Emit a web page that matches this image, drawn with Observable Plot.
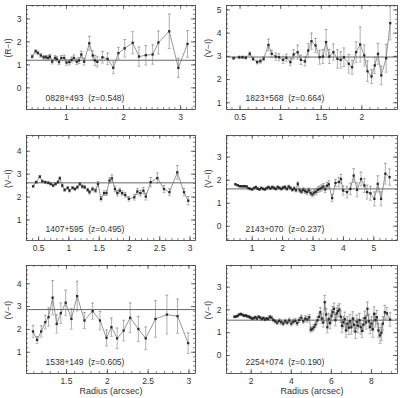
<!DOCTYPE html>
<html><head><meta charset="utf-8">
<script src="https://cdn.jsdelivr.net/npm/d3@7"></script>
<script src="https://cdn.jsdelivr.net/npm/@observablehq/plot@0.6"></script>
<style>
body{margin:0;background:#fff;}
#wrap{position:relative;width:400px;height:398px;background:#fff;overflow:hidden;}
#wrap svg{position:absolute;}
</style></head>
<body><div id="wrap"></div>
<script>
// ---- Panel 1: 0828+493 ----
const r1 = [0.40,0.46,0.50,0.55,0.60,0.64,0.68,0.71,0.75,0.80,0.83,0.87,0.91,0.96,1.00,1.05,1.09,1.13,1.18,1.22,1.26,1.31,1.40,1.46,1.50,1.54,1.63,1.72,1.82,1.91,2.02,2.16,2.27,2.39,2.51,2.61,2.80,2.96,3.12];
const c1 = [1.36,1.59,1.52,1.41,1.33,1.33,1.30,1.36,1.14,1.30,1.26,1.12,1.30,1.30,1.10,1.12,1.22,1.30,1.14,1.19,1.45,1.14,1.94,1.41,1.19,1.13,1.33,1.26,0.87,1.51,1.72,1.96,1.36,1.42,1.45,1.97,2.46,0.87,1.91];
const e1 = [0.06,0.07,0.07,0.08,0.08,0.08,0.09,0.09,0.1,0.1,0.1,0.11,0.11,0.12,0.12,0.12,0.12,0.13,0.13,0.13,0.14,0.15,0.3,0.2,0.22,0.22,0.25,0.25,0.25,0.25,0.38,0.48,0.42,0.42,0.42,0.5,0.75,0.42,0.58];
// ---- Panel 2: 1823+568 ----
const r2 = [0.42,0.49,0.53,0.57,0.62,0.66,0.71,0.75,0.79,0.85,0.89,0.94,0.98,1.03,1.07,1.12,1.16,1.21,1.25,1.30,1.34,1.38,1.43,1.48,1.52,1.56,1.60,1.65,1.70,1.74,1.78,1.84,1.88,1.93,1.98,2.03,2.07,2.12,2.16,2.20,2.24,2.30,2.35];
const c2 = [2.92,2.96,2.96,2.94,3.11,2.89,2.75,2.79,2.89,3.49,3.11,2.99,2.96,2.85,2.94,2.75,3.08,3.18,2.85,2.78,3.25,3.65,3.47,2.96,2.99,3.61,2.99,3.18,2.89,2.85,2.96,2.68,2.53,3.18,3.51,3.04,2.36,2.13,2.61,3.11,2.18,2.92,4.43];
const e2 = [0.05,0.05,0.05,0.06,0.07,0.07,0.08,0.08,0.09,0.25,0.15,0.15,0.15,0.15,0.15,0.15,0.2,0.3,0.2,0.2,0.3,0.35,0.3,0.3,0.3,0.55,0.3,0.35,0.4,0.35,0.4,0.4,0.3,0.45,0.75,0.45,0.45,0.3,0.35,0.45,0.4,0.6,0.72];
// ---- Panel 3: 1407+595 ----
const r3 = [0.41,0.46,0.52,0.56,0.61,0.66,0.70,0.74,0.78,0.82,0.85,0.89,0.93,0.98,1.01,1.06,1.10,1.14,1.18,1.22,1.26,1.31,1.34,1.39,1.44,1.48,1.53,1.58,1.62,1.67,1.71,1.76,1.80,1.84,1.88,1.93,1.99,2.08,2.13,2.18,2.23,2.27,2.35,2.46,2.57,2.66,2.79,2.90,2.97];
const c3 = [2.47,2.65,2.89,2.69,2.65,2.62,2.57,2.50,2.57,2.65,2.82,2.50,2.31,2.40,2.28,2.40,2.35,2.43,2.57,2.46,2.43,2.31,2.21,2.35,2.28,2.57,1.92,2.17,2.17,2.72,2.82,2.35,2.17,2.28,2.17,2.09,1.92,1.99,2.24,2.17,2.28,2.02,2.65,2.83,2.35,2.21,3.08,2.21,1.84];
const e3 = [0.04,0.04,0.05,0.05,0.05,0.05,0.05,0.05,0.05,0.06,0.06,0.06,0.06,0.06,0.06,0.06,0.06,0.07,0.07,0.07,0.07,0.07,0.08,0.08,0.08,0.1,0.1,0.1,0.1,0.12,0.15,0.12,0.12,0.1,0.1,0.1,0.1,0.12,0.12,0.12,0.14,0.15,0.2,0.22,0.15,0.15,0.3,0.16,0.18];
// ---- Panel 4: 2143+070 ----
const r4 = [0.45,0.52,0.58,0.64,0.70,0.76,0.82,0.88,0.94,1.00,1.06,1.12,1.18,1.24,1.30,1.36,1.42,1.48,1.54,1.60,1.66,1.72,1.78,1.84,1.90,1.96,2.02,2.08,2.14,2.20,2.26,2.32,2.38,2.44,2.50,2.56,2.62,2.68,2.74,2.80,2.86,2.92,2.98,3.04,3.10,3.16,3.22,3.28,3.34,3.40,3.46,3.52,3.63,3.74,3.85,3.92,3.99,4.12,4.23,4.34,4.45,4.58,4.69,4.78,4.89,5.02,5.13,5.24,5.38,5.52];
const c4 = [1.82,1.78,1.74,1.74,1.73,1.74,1.72,1.65,1.62,1.60,1.66,1.70,1.63,1.60,1.66,1.62,1.60,1.66,1.70,1.64,1.70,1.66,1.62,1.70,1.66,1.62,1.68,1.70,1.62,1.72,1.66,1.58,1.64,1.56,1.84,1.56,1.50,1.58,1.52,1.48,1.56,1.44,1.38,1.46,1.50,1.58,1.62,1.66,1.72,1.60,1.76,1.82,1.22,1.88,1.92,2.05,1.55,1.48,1.62,2.20,1.58,2.05,1.77,1.48,1.43,1.19,1.84,1.19,2.28,2.13];
const e4 = [0.03,0.03,0.03,0.03,0.03,0.03,0.03,0.03,0.03,0.03,0.03,0.04,0.04,0.04,0.04,0.04,0.04,0.04,0.04,0.04,0.05,0.05,0.05,0.05,0.05,0.05,0.05,0.06,0.06,0.06,0.06,0.06,0.07,0.07,0.08,0.08,0.08,0.09,0.09,0.1,0.1,0.1,0.11,0.11,0.12,0.12,0.12,0.13,0.13,0.14,0.14,0.15,0.15,0.15,0.2,0.2,0.2,0.25,0.25,0.3,0.3,0.3,0.3,0.3,0.3,0.3,0.35,0.3,0.45,0.35];
// ---- Panel 5: 1538+149 ----
const r5 = [1.09,1.14,1.19,1.24,1.28,1.33,1.38,1.43,1.49,1.56,1.63,1.72,1.82,1.91,1.99,2.05,2.12,2.20,2.28,2.38,2.47,2.59,2.73,2.86,2.99];
const c5 = [1.91,1.54,1.91,2.32,2.54,3.39,2.24,2.71,3.17,2.46,3.46,2.39,2.80,2.39,1.63,2.10,1.61,1.95,2.51,2.02,1.61,2.46,2.65,2.58,1.40];
const e5 = [0.27,0.15,0.25,0.3,0.4,0.75,0.4,0.45,0.55,0.45,0.65,0.35,0.35,0.4,0.35,0.4,0.45,0.45,0.65,0.55,0.5,0.8,0.85,0.75,0.45];
// ---- Panel 6: 2254+074 ----
const r6 = [1.17,1.25,1.33,1.41,1.49,1.57,1.65,1.73,1.81,1.89,1.97,2.05,2.13,2.21,2.29,2.37,2.45,2.53,2.61,2.69,2.77,2.85,2.93,3.01,
3.10,3.20,3.30,3.40,3.50,3.60,3.70,3.80,3.90,4.00,4.10,4.20,4.30,4.40,4.50,4.60,4.70,4.80,4.90,
4.97,5.05,5.13,5.21,5.30,5.38,5.45,5.52,5.60,5.67,5.74,5.80,5.87,5.94,6.00,6.06,6.13,6.20,6.27,6.33,6.40,6.47,6.53,6.60,6.67,6.73,6.80,6.87,6.93,7.00,7.07,7.13,7.20,7.27,7.33,7.40,7.47,7.53,7.60,7.67,7.73,7.80,7.87,7.93,8.00,8.07,8.13,8.20,8.27,8.35,8.43,8.50,8.57,8.67,8.77,8.93];
const c6 = [1.70,1.71,1.74,1.80,1.82,1.78,1.74,1.76,1.72,1.70,1.66,1.62,1.64,1.68,1.62,1.70,1.66,1.60,1.64,1.58,1.62,1.60,1.70,1.66,
1.56,1.50,1.44,1.52,1.46,1.40,1.50,1.44,1.54,1.40,1.48,1.52,1.42,1.56,1.66,1.50,1.62,1.58,1.68,
1.13,1.16,1.24,1.35,1.54,1.70,1.90,1.62,1.45,2.34,1.80,1.24,1.60,1.42,1.75,1.90,2.05,1.55,1.85,1.95,2.02,1.70,1.30,1.46,1.60,1.10,1.40,1.22,1.50,1.24,1.62,1.35,1.05,1.48,1.30,1.55,1.24,1.08,1.35,1.65,1.45,2.05,1.50,1.25,1.40,1.15,1.83,1.55,1.68,1.10,0.88,1.00,1.40,1.90,1.85,1.58];
const e6 = [0.04,0.04,0.04,0.04,0.04,0.04,0.04,0.04,0.04,0.05,0.05,0.05,0.05,0.05,0.05,0.05,0.05,0.05,0.06,0.06,0.06,0.06,0.06,0.06,
0.08,0.08,0.08,0.08,0.09,0.09,0.09,0.09,0.1,0.1,0.1,0.1,0.1,0.11,0.11,0.11,0.12,0.12,0.12,
0.1,0.1,0.12,0.12,0.15,0.15,0.2,0.2,0.2,0.3,0.25,0.25,0.25,0.25,0.25,0.25,0.25,0.25,0.25,0.25,0.25,0.25,0.3,0.25,0.3,0.3,0.3,0.3,0.3,0.3,0.3,0.3,0.3,0.3,0.3,0.3,0.3,0.3,0.3,0.3,0.3,0.3,0.3,0.3,0.3,0.35,0.3,0.3,0.3,0.3,0.35,0.35,0.3,0.3,0.25,0.3];

const names = ["0828+493  (z=0.548)","1823+568  (z=0.664)","1407+595  (z=0.495)","2143+070  (z=0.237)","1538+149  (z=0.605)","2254+074  (z=0.190)"];
const yLabels = ["(R\u2212I)","(V\u2212I)","(V\u2212I)","(V\u2212I)","(V\u2212I)","(V\u2212I)"];
const refLevels = [1.2, 2.97, 2.62, 1.62, 2.87, 1.55];
const xMajors = [[1,2,3],[0.5,1,1.5,2],[0.5,1,1.5,2,2.5,3],[1,2,3,4,5],[1.5,2,2.5,3],[2,4,6,8]];
const yMajors = [[0,1,2,3],[1,2,3,4,5],[1,2,3,4],[0,1,2,3],[1,2,3,4],[0,1,2,3]];

const series = [[r1,c1,e1],[r2,c2,e2],[r3,c3,e3],[r4,c4,e4],[r5,c5,e5],[r6,c6,e6]];

// layout / scale options
const cfg = [
  {xd:[0.30,3.26], yd:[-0.94,3.58], xm:0.1, ym:0.2, left:0, top:0, fh:104, mb:20, mr:5},
  {xd:[0.333,2.44], yd:[0.71,5.19], xm:0.1, ym:0.2, left:200, top:0, fh:104, mb:20, mr:3},
  {xd:[0.30,3.09], yd:[0.10,4.69], xm:0.1, ym:0.2, left:0, top:130, fh:105, mb:20, mr:5},
  {xd:[0.155,5.78], yd:[-0.62,3.94], xm:0.2, ym:0.2, left:200, top:130, fh:105, mb:20, mr:3},
  {xd:[1.01,3.08], yd:[0.07,4.80], xm:0.1, ym:0.2, left:0, top:260, fh:108, mb:25, mr:5},
  {xd:[0.77,9.30], yd:[-0.79,3.95], xm:0.5, ym:0.2, left:200, top:260, fh:108, mb:25, mr:3}
];

function stepTicks(lo, hi, step) {
  const out = [];
  for (let k = Math.ceil(lo/step - 1e-9); k*step <= hi + 1e-9; k++) out.push(+(k*step).toFixed(4));
  return out;
}
const cap = {draw(ctx, size) { const w = Math.sqrt(size/Math.PI); ctx.moveTo(-w,0); ctx.lineTo(w,0); }};
const wrap = document.getElementById("wrap");
const ink = "#333", soft = "#7a7a7a";

cfg.forEach((c, i) => {
  const [rs, cs, es] = series[i];
  const data = rs.map((r, j) => ({r, c: cs[j], e: es[j]}));
  const mt = 5, ml = 26;
  const width = 200, height = mt + c.fh + c.mb;
  const fw = width - ml - c.mr;
  const xMin = stepTicks(c.xd[0], c.xd[1], c.xm);
  const yMin = stepTicks(c.yd[0], c.yd[1], c.ym);
  const xMaj = xMajors[i], yMaj = yMajors[i];
  const marks = [
    Plot.ruleY([refLevels[i]], {stroke: "#555", strokeWidth: 0.9}),
    Plot.ruleX(data, {x: "r", y1: d => d.c - d.e, y2: d => d.c + d.e, stroke: soft, strokeWidth: 0.6}),
    Plot.dot(data, {x: "r", y: d => d.c + d.e, symbol: cap, r: 1.4, stroke: soft, strokeWidth: 0.6}),
    Plot.dot(data, {x: "r", y: d => d.c - d.e, symbol: cap, r: 1.4, stroke: soft, strokeWidth: 0.6}),
    Plot.line(data, {x: "r", y: "c", stroke: "#6a6a6a", strokeWidth: 0.7}),
    Plot.dot(data, {x: "r", y: "c", symbol: "square", r: 1.3, fill: "#2a2a2a", stroke: null}),
    // inward ticks on all four sides
    Plot.tickX(xMin, {x: d => d, insetTop: c.fh - 2, stroke: ink, strokeWidth: 0.6}),
    Plot.tickX(xMin, {x: d => d, insetBottom: c.fh - 2, stroke: ink, strokeWidth: 0.6}),
    Plot.tickX(xMaj, {x: d => d, insetTop: c.fh - 4, stroke: ink, strokeWidth: 0.7}),
    Plot.tickX(xMaj, {x: d => d, insetBottom: c.fh - 4, stroke: ink, strokeWidth: 0.7}),
    Plot.tickY(yMin, {y: d => d, insetRight: fw - 2, stroke: ink, strokeWidth: 0.6}),
    Plot.tickY(yMin, {y: d => d, insetLeft: fw - 2, stroke: ink, strokeWidth: 0.6}),
    Plot.tickY(yMaj, {y: d => d, insetRight: fw - 4, stroke: ink, strokeWidth: 0.7}),
    Plot.tickY(yMaj, {y: d => d, insetLeft: fw - 4, stroke: ink, strokeWidth: 0.7}),
    Plot.frame({stroke: ink, strokeWidth: 0.8}),
    Plot.axisX({ticks: xMaj, tickSize: 0, tickPadding: 4, tickFormat: d => String(d), fontSize: 8.5, label: null, color: ink}),
    Plot.axisY({ticks: yMaj, tickSize: 0, tickPadding: 5, tickFormat: d => String(d), fontSize: 8.5, label: null, color: ink}),
    Plot.text([names[i]], {frameAnchor: "bottom-left", dx: 19, dy: -11, textAnchor: "start", lineAnchor: "middle", fontSize: 8.5, fill: ink}),
    Plot.text([yLabels[i]], {frameAnchor: "left", dx: -18, rotate: -90, fontSize: 8.5, fill: ink, lineAnchor: "middle"})
  ];
  if (i >= 4) marks.push(Plot.text(["Radius (arcsec)"], {frameAnchor: "bottom", dy: 18, lineAnchor: "middle", fontSize: 9, fill: ink}));
  const svg = Plot.plot({
    width, height,
    marginTop: mt, marginLeft: ml, marginRight: c.mr, marginBottom: c.mb,
    x: {domain: c.xd},
    y: {domain: c.yd},
    style: {fontFamily: "'Liberation Sans', sans-serif", background: "transparent", color: ink, overflow: "visible"},
    marks
  });
  svg.style.left = c.left + "px";
  svg.style.top = c.top + "px";
  wrap.appendChild(svg);
});
</script>
</body></html>
